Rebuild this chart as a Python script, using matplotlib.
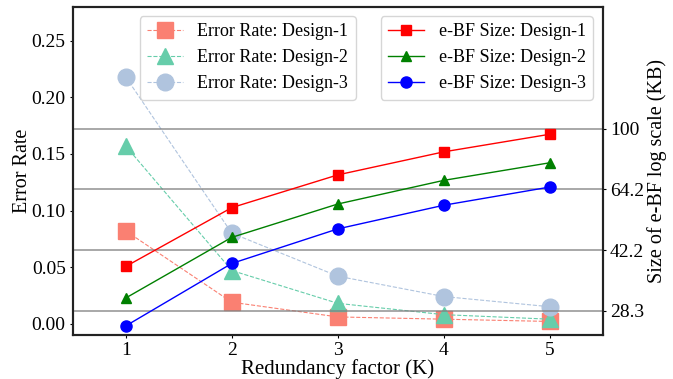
import matplotlib
matplotlib.use("Agg")
import matplotlib.pyplot as plt

plt.rcParams['font.family'] = ['Liberation Serif', 'DejaVu Serif']
plt.rcParams['font.size'] = 14

# Redundancy factor K
k_values = [1, 2, 3, 4, 5]

# Error rate (left axis)
err_d1 = [0.082, 0.019, 0.006, 0.004, 0.002]
err_d2 = [0.157, 0.047, 0.018, 0.008, 0.004]
err_d3 = [0.218, 0.080, 0.042, 0.024, 0.015]

# e-BF size (right axis, plotted in log-scale tick units: 0 -> 28.3 KB ... 3 -> 100 KB)
size_d1 = [0.73, 1.70, 2.24, 2.62, 2.91]
size_d2 = [0.21, 1.21, 1.76, 2.15, 2.44]
size_d3 = [-0.25, 0.78, 1.35, 1.74, 2.04]
size_tick_pos = [0, 1, 2, 3]
size_tick_labels = ['28.3', '42.2', '64.2', '100']

fig = plt.figure(figsize=(6.73, 3.79), dpi=100)
ax1 = fig.add_axes([0.108, 0.116, 0.788, 0.866])
ax2 = ax1.twinx()

# error rate curves
ax1.plot(k_values, err_d1, '--s', color='salmon', lw=0.8, ms=12, label='Error Rate: Design-1')
ax1.plot(k_values, err_d2, '--^', color='mediumaquamarine', lw=0.8, ms=12, label='Error Rate: Design-2')
ax1.plot(k_values, err_d3, '--o', color='lightsteelblue', lw=0.8, ms=12, label='Error Rate: Design-3')

# e-BF size curves
ax2.plot(k_values, size_d1, '-s', color='red', lw=1, ms=7.5, label='e-BF Size: Design-1')
ax2.plot(k_values, size_d2, '-^', color='green', lw=1, ms=7.5, label='e-BF Size: Design-2')
ax2.plot(k_values, size_d3, '-o', color='blue', lw=1, ms=8, label='e-BF Size: Design-3')

ax1.set_xlim(0.5, 5.5)
ax1.set_ylim(-0.01, 0.28)
ax1.set_xticks(k_values)
ax1.set_yticks([0.0, 0.05, 0.10, 0.15, 0.20, 0.25])
ax1.set_yticklabels(['0.00', '0.05', '0.10', '0.15', '0.20', '0.25'])
ax1.set_xlabel('Redundancy factor (K)', fontsize=15, labelpad=0)
ax1.set_ylabel('Error Rate', fontsize=14.5, labelpad=0)

ax2.set_ylim(-0.40, 5.01)
ax2.set_yticks(size_tick_pos)
ax2.set_yticklabels(size_tick_labels)
ax2.set_ylabel('Size of e-BF log scale (KB)', fontsize=14.5, labelpad=2)
ax2.yaxis.grid(True, color='gray', lw=1.2, alpha=0.8)

for ax in (ax1, ax2):
    ax.tick_params(length=2.5, pad=2.5)
    for sp in ax.spines.values():
        sp.set_linewidth(1.5)
        sp.set_color('#222222')

ax1.legend(loc='upper left', bbox_to_anchor=(0.126, 0.972), borderaxespad=0, fontsize=13)
ax2.legend(loc='upper right', bbox_to_anchor=(0.981, 0.972), borderaxespad=0, fontsize=13)

fig.savefig('out.png', dpi=100)
